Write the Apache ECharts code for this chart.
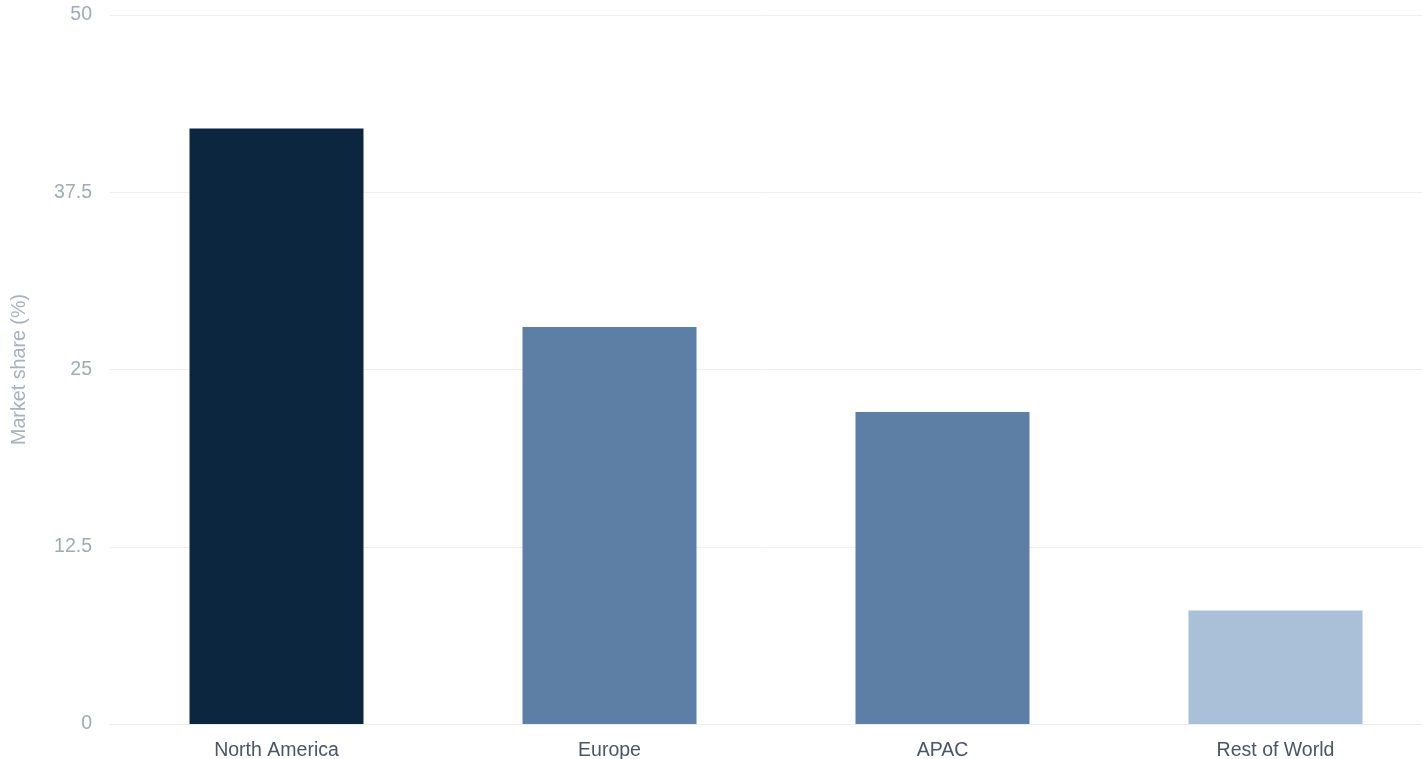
<!DOCTYPE html>
<html>
<head>
<meta charset="utf-8">
<script src="https://cdn.jsdelivr.net/npm/echarts@6/dist/echarts.min.js"></script>
<style>
  html, body { margin: 0; padding: 0; background: #ffffff; }
  #chart { width: 1422px; height: 759px; }
</style>
</head>
<body>
<div id="chart"></div>
<script>
// Regional market share
const regions = ['North America', 'Europe', 'APAC', 'Rest of World'];
const shares = [42, 28, 22, 8];
const barColors = ['#0c2640', '#5d7fa5', '#5d7fa5', '#aabfd8'];
const yTicks = [0, 12.5, 25, 37.5, 50];

const FONT = 'Liberation Sans, Arial, sans-serif';
const chart = echarts.init(document.getElementById('chart'));
chart.setOption({
  backgroundColor: '#ffffff',
  animation: false,
  grid: { left: 110, top: 15, right: -20, bottom: 35, containLabel: false, outerBoundsMode: 'none' },
  xAxis: {
    type: 'category',
    data: regions,
    axisLine: { show: true, lineStyle: { color: '#e8ebf0', width: 1 } },
    axisTick: { show: false },
    axisLabel: { color: '#4a5568', fontSize: 19.5, fontFamily: FONT, margin: 17 }
  },
  yAxis: {
    type: 'value',
    min: yTicks[0],
    max: yTicks[yTicks.length - 1],
    interval: yTicks[1] - yTicks[0],
    name: 'Market share (%)',
    nameLocation: 'middle',
    nameGap: 80,
    nameTextStyle: { color: '#a8b1bf', fontSize: 19.7, fontFamily: FONT },
    axisLine: { show: false },
    axisTick: { show: false },
    axisLabel: { color: '#a0aab8', fontSize: 19.5, fontFamily: FONT, margin: 18, padding: [2, 0, 0, 0] },
    splitLine: { lineStyle: { color: '#eceef2', width: 1 } }
  },
  series: [{
    type: 'bar',
    barWidth: 174,
    data: shares.map((v, i) => ({ value: v, itemStyle: { color: barColors[i] } }))
  }]
});
</script>
</body>
</html>
